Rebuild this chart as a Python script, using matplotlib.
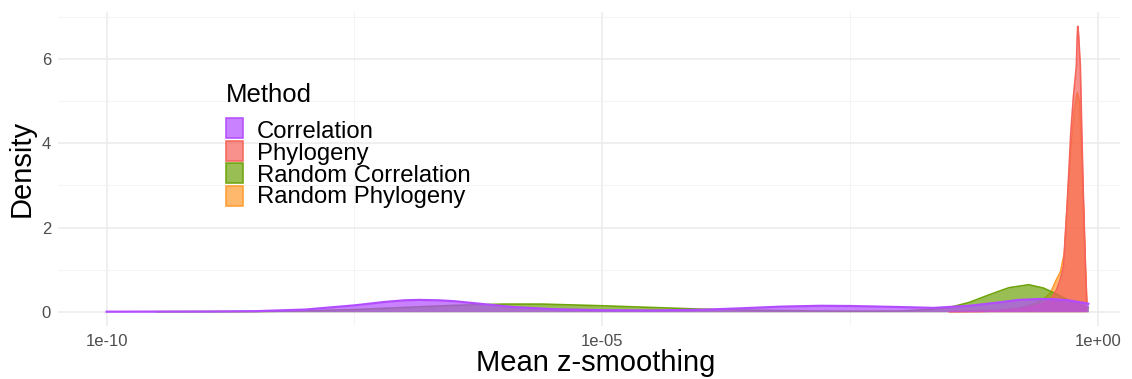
import numpy as np
import matplotlib
matplotlib.use("Agg")
import matplotlib.pyplot as plt
from matplotlib.patches import Rectangle

plt.rcParams['font.family'] = ['Liberation Sans', 'DejaVu Sans']

# log10(mean z-smoothing) vs density
corr_x = [-10.0, -9.5, -9.0, -8.5, -8.0, -7.5, -7.2, -7.0, -6.85, -6.65, -6.5, -6.2, -5.9,
          -5.5, -5.0, -4.5, -4.0, -3.6, -3.2, -2.8, -2.5, -2.0, -1.66, -1.3, -1.0, -0.8,
          -0.6, -0.48, -0.3, -0.15, -0.1]
corr_y = [0.0, 0.002, 0.004, 0.012, 0.05, 0.15, 0.23, 0.27, 0.28, 0.27, 0.25, 0.18, 0.11,
          0.06, 0.035, 0.03, 0.045, 0.08, 0.12, 0.14, 0.135, 0.11, 0.09, 0.14, 0.22, 0.28,
          0.3, 0.3, 0.27, 0.21, 0.19]

phylo_x = [-1.5, -1.2, -1.0, -0.8, -0.65, -0.55, -0.48, -0.42, -0.38, -0.35, -0.31, -0.276,
           -0.25, -0.22, -0.212, -0.206, -0.198, -0.18, -0.165, -0.15, -0.13, -0.115]
phylo_y = [0.0, 0.005, 0.02, 0.06, 0.12, 0.2, 0.28, 0.52, 0.78, 1.08, 2.66, 4.25,
           5.1, 5.83, 6.5, 6.78, 6.6, 5.83, 4.25, 2.8, 1.2, 0.2]

rcorr_x = [-9.5, -8.5, -8.0, -7.5, -7.0, -6.5, -6.0, -5.6, -5.0, -4.5, -4.0, -3.5, -3.0,
           -2.5, -2.0, -1.7, -1.5, -1.3, -1.1, -0.9, -0.7, -0.55, -0.45, -0.35, -0.25,
           -0.15, -0.1]
rcorr_y = [0.0, 0.005, 0.02, 0.05, 0.1, 0.15, 0.18, 0.18, 0.14, 0.1, 0.06, 0.035, 0.02,
           0.012, 0.015, 0.05, 0.1, 0.22, 0.4, 0.57, 0.64, 0.56, 0.45, 0.33, 0.22,
           0.14, 0.1]

rphylo_x = [-1.5, -1.0, -0.8, -0.65, -0.55, -0.48, -0.43, -0.38, -0.34, -0.3, -0.27,
            -0.24, -0.21, -0.19, -0.17, -0.15, -0.13, -0.115]
rphylo_y = [0.0, 0.03, 0.08, 0.18, 0.3, 0.45, 0.72, 0.95, 1.4, 3.0, 4.0,
            4.8, 5.2, 5.0, 4.0, 2.6, 1.1, 0.25]

methods = ['Correlation', 'Phylogeny', 'Random Correlation', 'Random Phylogeny']
colors = ['#B24CFF', '#F6635A', '#6EA30A', '#FF9A2E']
series = [(corr_x, corr_y), (phylo_x, phylo_y), (rcorr_x, rcorr_y), (rphylo_x, rphylo_y)]

x_ticks = [-10, -5, 0]
x_labels = ['1e-10', '1e-05', '1e+00']
y_ticks = [0, 2, 4, 6]

W, H = 1132, 379
fig = plt.figure(figsize=(W / 100, H / 100), dpi=100)
ax = fig.add_axes([58 / W, 1 - 326 / H, (1120 - 58) / W, (326 - 12) / H])

# draw order: random phylogeny first, correlation on top
for i in [3, 2, 1, 0]:
    xs, ys = series[i]
    ax.fill_between(xs, 0, ys, color=colors[i], alpha=0.7, lw=0, zorder=3 + (3 - i))
    ax.plot(xs, ys, color=colors[i], lw=1.6 if i == 0 else 1.2, zorder=3 + (3 - i))

ax.set_xlim(-10.49, 0.22)
ax.set_ylim(-0.34, 7.12)
ax.set_xticks(x_ticks)
ax.set_xticklabels(x_labels)
ax.set_yticks(y_ticks)
ax.set_xticks([-7.5, -2.5], minor=True)
ax.set_yticks([1, 3, 5, 7], minor=True)
ax.grid(True, which='major', color='#EBEBEB', lw=1.1, zorder=0)
ax.grid(True, which='minor', color='#F2F2F2', lw=0.6, zorder=0)
ax.tick_params(which='both', length=0, labelsize=12, labelcolor='#4D4D4D')
ax.tick_params(axis='x', pad=6)
ax.tick_params(axis='y', pad=5)
for s in ax.spines.values():
    s.set_visible(False)
ax.set_axisbelow(True)

fig.text(596 / W, 1 - 371 / H, 'Mean z-smoothing', fontsize=21, ha='center', va='baseline')
fig.text(22 / W, 1 - 168 / H, 'Density', fontsize=21, ha='center', va='center', rotation=90)

# legend
fig.text(226 / W, 1 - 102 / H, 'Method', fontsize=18.5, ha='left', va='baseline')
key_tops = [118, 141, 163, 186]
baselines = [138.5, 160, 181.7, 203.3]
for i, m in enumerate(methods):
    fig.add_artist(Rectangle((226 / W, 1 - (key_tops[i] + 20) / H), 17 / W, 20 / H,
                             transform=fig.transFigure, facecolor=colors[i], alpha=0.7,
                             lw=0))
    fig.add_artist(Rectangle((226 / W, 1 - (key_tops[i] + 20) / H), 17 / W, 20 / H,
                             transform=fig.transFigure, facecolor='none',
                             edgecolor=colors[i], lw=1.1))
    fig.text(257 / W, 1 - baselines[i] / H, m, fontsize=17.2, ha='left', va='baseline')

fig.savefig('out.png', dpi=100)
